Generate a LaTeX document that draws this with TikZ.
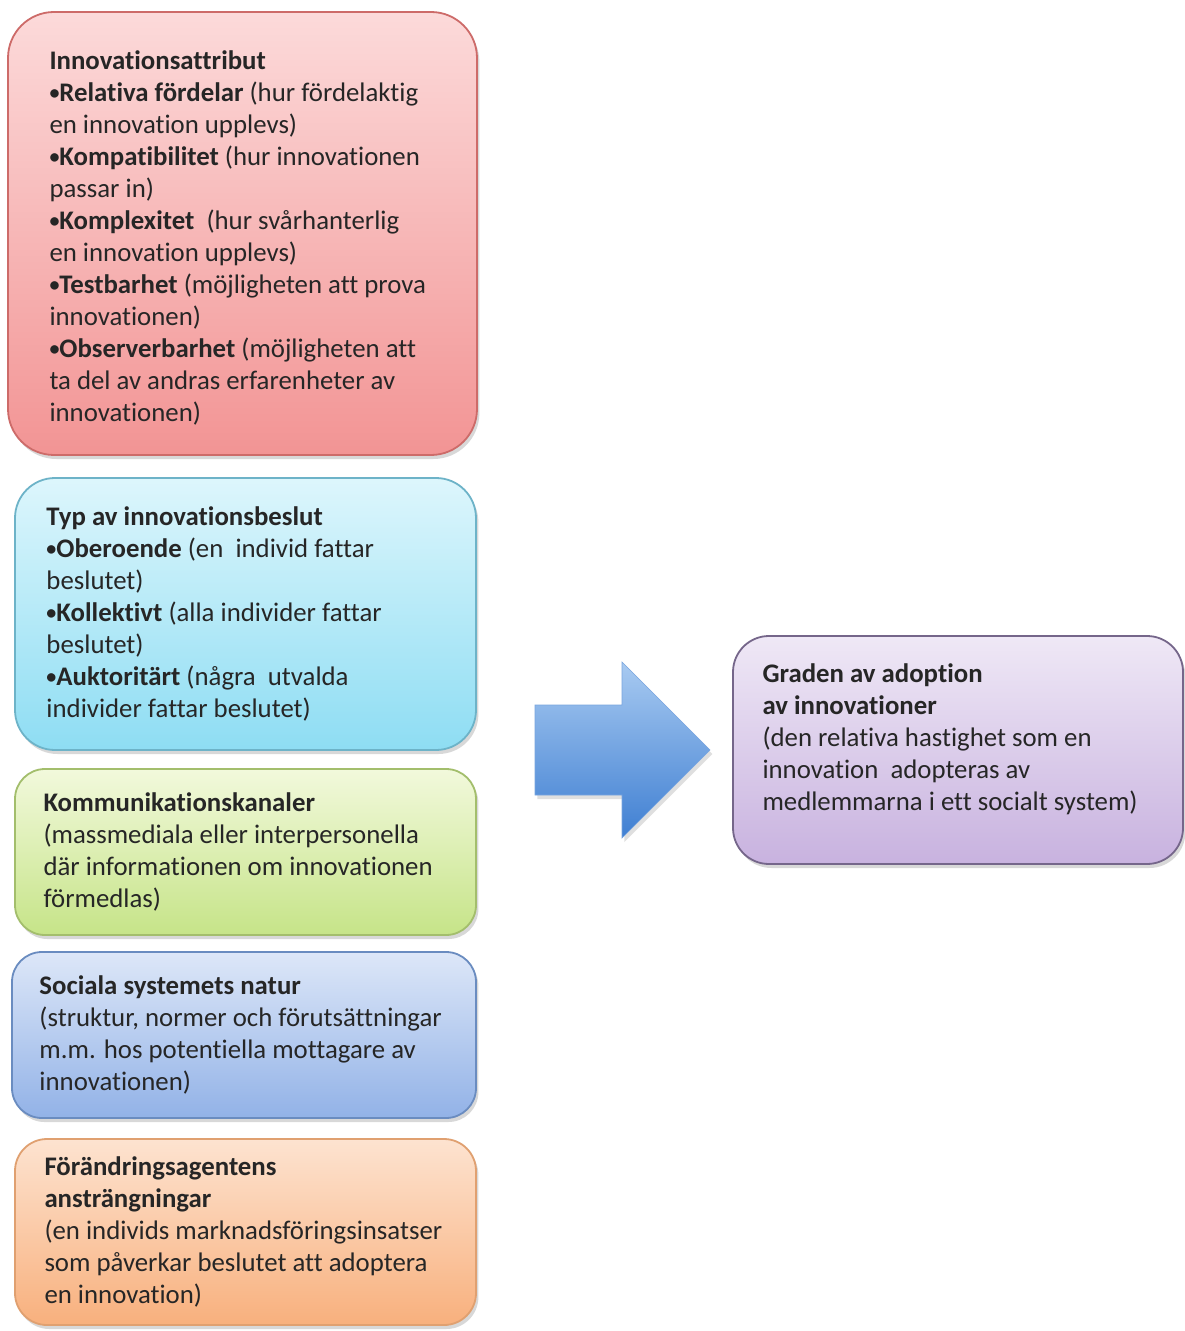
\documentclass[tikz,border=0pt]{standalone}
\usepackage{fontspec}
\setmainfont{Carlito}[Ligatures={NoCommon}]
\usetikzlibrary{positioning, shadows}

\definecolor{attrTop}{HTML}{FCDADA}
\definecolor{attrBot}{HTML}{F29494}
\definecolor{attrLine}{HTML}{CD6B69}
\definecolor{typTop}{HTML}{DDF6FC}
\definecolor{typBot}{HTML}{8EDDF3}
\definecolor{typLine}{HTML}{6DB3C8}
\definecolor{komTop}{HTML}{F2F9DC}
\definecolor{komBot}{HTML}{C6E488}
\definecolor{komLine}{HTML}{A3BE6C}
\definecolor{socTop}{HTML}{DDE7F8}
\definecolor{socBot}{HTML}{92B2E7}
\definecolor{socLine}{HTML}{6A8CC0}
\definecolor{agTop}{HTML}{FDE3D0}
\definecolor{agBot}{HTML}{F8B07D}
\definecolor{agLine}{HTML}{E0A070}
\definecolor{gradTop}{HTML}{EFE8F6}
\definecolor{gradBot}{HTML}{C8B2DF}
\definecolor{gradLine}{HTML}{75668A}
\definecolor{pilTop}{HTML}{A8CAF1}
\definecolor{pilBot}{HTML}{3F7FD2}

\newcommand{\pkt}{\raisebox{0.15ex}{\fontsize{10}{10}\selectfont•}}

\begin{document}
\begin{tikzpicture}[
  x=0.5pt,
  y=-0.5pt,
  box/.style={
    rectangle,
    draw,
    line width=0.9pt,
    drop shadow={shadow xshift=1.2pt, shadow yshift=-2pt, opacity=0.3}
  },
  boxtext/.style={
    align=left,
    inner sep=0pt,
    text=black!85,
    font=\fontsize{13.4}{16}\selectfont
  }
]

\fill[white] (0,0) rectangle (1184,1331);
\useasboundingbox (0,0) rectangle (1184,1331);

% Innovationsattribut
\node[box, draw=attrLine, top color=attrTop, bottom color=attrBot,
  rounded corners=23pt, minimum width=234.5pt, minimum height=221.5pt]
  (attrBox) at (242.5,233.5) {};
\node[boxtext, right=21pt of attrBox.west, yshift=-2pt] (attrText) {
  \textbf{Innovationsattribut}\\
  \textbf{\pkt Relativa fördelar} (hur fördelaktig\\
  en innovation upplevs)\\
  \textbf{\pkt Kompatibilitet} (hur innovationen\\
  passar in)\\
  \textbf{\pkt Komplexitet}~ (hur svårhanterlig\\
  en innovation upplevs)\\
  \textbf{\pkt Testbarhet} (möjligheten att prova\\
  innovationen)\\
  \textbf{\pkt Observerbarhet} (möjligheten att\\
  ta del av andras erfarenheter av\\
  innovationen)
};

% Typ av innovationsbeslut
\node[box, draw=typLine, top color=typTop, bottom color=typBot,
  rounded corners=20pt, minimum width=230.5pt, minimum height=136pt]
  (typBox) at (245.5,614) {};
\node[boxtext, right=16pt of typBox.west] (typText) {
  \textbf{Typ av innovationsbeslut}\\
  \textbf{\pkt Oberoende} (en~ individ fattar\\
  beslutet)\\
  \textbf{\pkt Kollektivt} (alla individer fattar\\
  beslutet)\\
  \textbf{\pkt Auktoritärt} (några~ utvalda\\
  individer fattar beslutet)
};

% Kommunikationskanaler
\node[box, draw=komLine, top color=komTop, bottom color=komBot,
  rounded corners=15pt, minimum width=230.5pt, minimum height=83pt]
  (komBox) at (245.5,852) {};
\node[boxtext, right=14.5pt of komBox.west] (komText) {
  \textbf{Kommunikationskanaler}\\
  (massmediala eller interpersonella\\
  där informationen om innovationen\\
  förmedlas)
};

% Sociala systemets natur
\node[box, draw=socLine, top color=socTop, bottom color=socBot,
  rounded corners=15pt, minimum width=232pt, minimum height=83pt]
  (socBox) at (244,1035) {};
\node[boxtext, right=14pt of socBox.west] (socText) {
  \textbf{Sociala systemets natur}\\
  (struktur, normer och förutsättningar\\
  m.m. hos potentiella mottagare av\\
  innovationen)
};

% Förändringsagentens ansträngningar
\node[box, draw=agLine, top color=agTop, bottom color=agBot,
  rounded corners=16pt, minimum width=230.5pt, minimum height=93pt]
  (agBox) at (245.5,1232) {};
\node[boxtext, right=15pt of agBox.west] (agText) {
  \textbf{Förändringsagentens}\\
  \textbf{ansträngningar}\\
  (en individs marknadsföringsinsatser\\
  som påverkar beslutet att adoptera\\
  en innovation)
};

% Graden av adoption
\node[box, draw=gradLine, top color=gradTop, bottom color=gradBot,
  rounded corners=18pt, minimum width=225pt, minimum height=114pt]
  (gradBox) at (958,750) {};
\node[boxtext, right=15pt of gradBox.west, yshift=5.5pt] (gradText) {
  \textbf{Graden av adoption}\\
  \textbf{av innovationer}\\
  (den relativa hastighet som en\\
  innovation~ adopteras av\\
  medlemmarna i ett socialt system)
};

% Pil
\shade[top color=pilTop, bottom color=pilBot, draw=pilBot!70, line width=0.3pt,
  drop shadow={shadow xshift=1.2pt, shadow yshift=-2pt, opacity=0.25}]
  (535,705) -- (622,705) -- (622,662) -- (710,750)
  -- (622,838) -- (622,795) -- (535,795) -- cycle;

\end{tikzpicture}
\end{document}
